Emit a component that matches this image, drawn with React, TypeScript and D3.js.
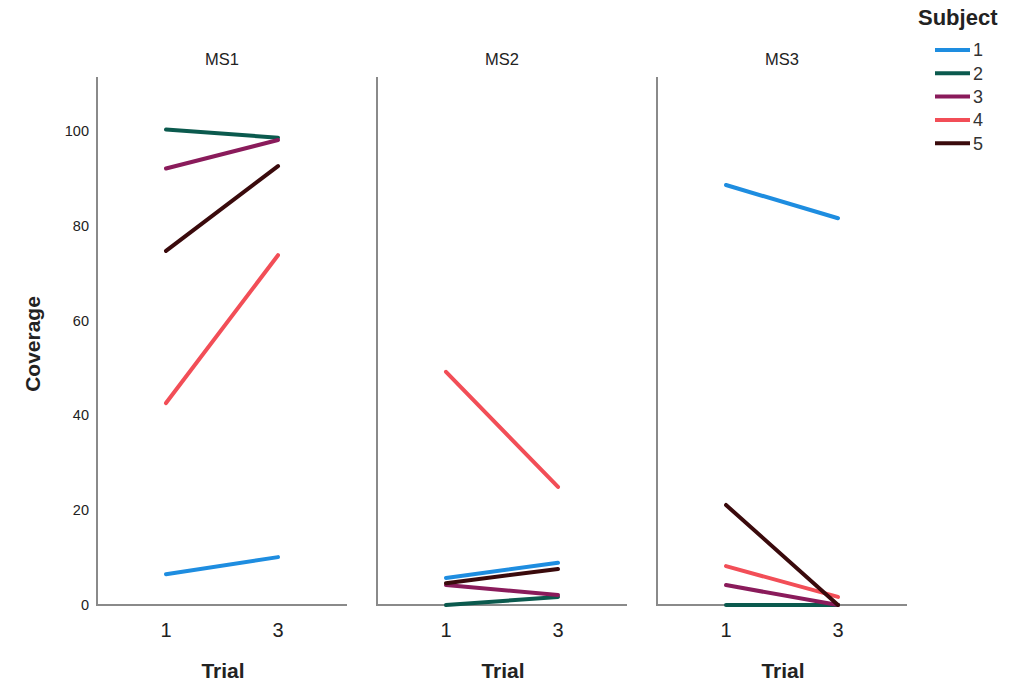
import { useEffect, useRef } from 'react'
import * as d3 from 'd3'

const panels = ['MS1', 'MS2', 'MS3']
const subjects = ['1', '2', '3', '4', '5']
const colors = ['#1e8de0', '#0b5a4e', '#8a1b5b', '#f24e57', '#3a0a0c']
const trials = [1, 3]
const yTicks = [0, 20, 40, 60, 80, 100]

// coverage[panel][subject] = [trial 1, trial 3]
const ms1 = [[6.5, 10.1], [100.3, 98.6], [92.1, 98.1], [42.6, 73.8], [74.7, 92.6]]
const ms2 = [[5.7, 8.9], [0, 1.7], [4.2, 2.1], [49.2, 24.9], [4.6, 7.6]]
const ms3 = [[88.6, 81.6], [0, 0], [4.2, 0], [8.2, 1.7], [21.1, 0]]
const coverage = [ms1, ms2, ms3]

export default function App() {
  const svgRef = useRef<SVGSVGElement>(null)

  useEffect(() => {
    const svg = d3.select(svgRef.current)
    svg.selectAll('*').remove()
    const font = 'Arial, "Liberation Sans", sans-serif'

    const top = 77
    const bottom = 605
    const y = d3.scaleLinear().domain([0, 100]).range([bottom, 131])
    const panelW = 250

    // y tick labels
    yTicks.forEach((t) => {
      svg.append('text')
        .attr('x', 89)
        .attr('y', y(t))
        .attr('dy', '0.35em')
        .attr('text-anchor', 'end')
        .attr('font-family', font)
        .attr('font-size', 14.5)
        .attr('fill', '#222')
        .text(t)
    })

    svg.append('text')
      .attr('transform', `translate(40,${(top + bottom) / 2 + 3}) rotate(-90)`)
      .attr('text-anchor', 'middle')
      .attr('font-family', font)
      .attr('font-size', 21)
      .attr('font-weight', 700)
      .attr('fill', '#222')
      .text('Coverage')

    panels.forEach((p, pi) => {
      const x0 = 97 + pi * 280
      const x = d3.scalePoint<number>().domain(trials).range([x0 + 69, x0 + 181])
      const g = svg.append('g')

      g.append('line')
        .attr('x1', x0).attr('x2', x0)
        .attr('y1', top).attr('y2', bottom)
        .attr('stroke', '#8a8a8a').attr('stroke-width', 2)
      g.append('line')
        .attr('x1', x0 - 1).attr('x2', x0 + panelW)
        .attr('y1', bottom).attr('y2', bottom)
        .attr('stroke', '#8a8a8a').attr('stroke-width', 2)

      g.append('text')
        .attr('x', x0 + 125)
        .attr('y', 65)
        .attr('text-anchor', 'middle')
        .attr('font-family', font)
        .attr('font-size', 16.5)
        .attr('fill', '#222')
        .text(p)

      trials.forEach((t) => {
        g.append('text')
          .attr('x', x(t)!)
          .attr('y', 637)
          .attr('text-anchor', 'middle')
          .attr('font-family', font)
          .attr('font-size', 20)
          .attr('fill', '#222')
          .text(t)
      })

      g.append('text')
        .attr('x', x0 + 126)
        .attr('y', 678)
        .attr('text-anchor', 'middle')
        .attr('font-family', font)
        .attr('font-size', 21)
        .attr('font-weight', 700)
        .attr('fill', '#222')
        .text('Trial')

      const line = d3.line<number>()
        .x((_, i) => x(trials[i])!)
        .y((d) => y(d))

      coverage[pi].forEach((vals, si) => {
        g.append('path')
          .attr('d', line(vals))
          .attr('fill', 'none')
          .attr('stroke', colors[si])
          .attr('stroke-width', 4)
          .attr('stroke-linecap', 'round')
      })
    })

    // legend
    svg.append('text')
      .attr('x', 918)
      .attr('y', 25)
      .attr('font-family', font)
      .attr('font-size', 22)
      .attr('font-weight', 700)
      .attr('fill', '#222')
      .text('Subject')

    subjects.forEach((s, i) => {
      const ly = 50 + i * 23.3
      svg.append('line')
        .attr('x1', 935).attr('x2', 970)
        .attr('y1', ly).attr('y2', ly)
        .attr('stroke', colors[i]).attr('stroke-width', 4)
      svg.append('text')
        .attr('x', 973)
        .attr('y', ly)
        .attr('dy', '0.36em')
        .attr('font-family', font)
        .attr('font-size', 18)
        .attr('fill', '#333')
        .text(s)
    })
  }, [])

  return (
    <svg
      ref={svgRef}
      width={1030}
      height={685}
      style={{ position: 'absolute', left: 0, top: 0, background: '#fff' }}
    />
  )
}
